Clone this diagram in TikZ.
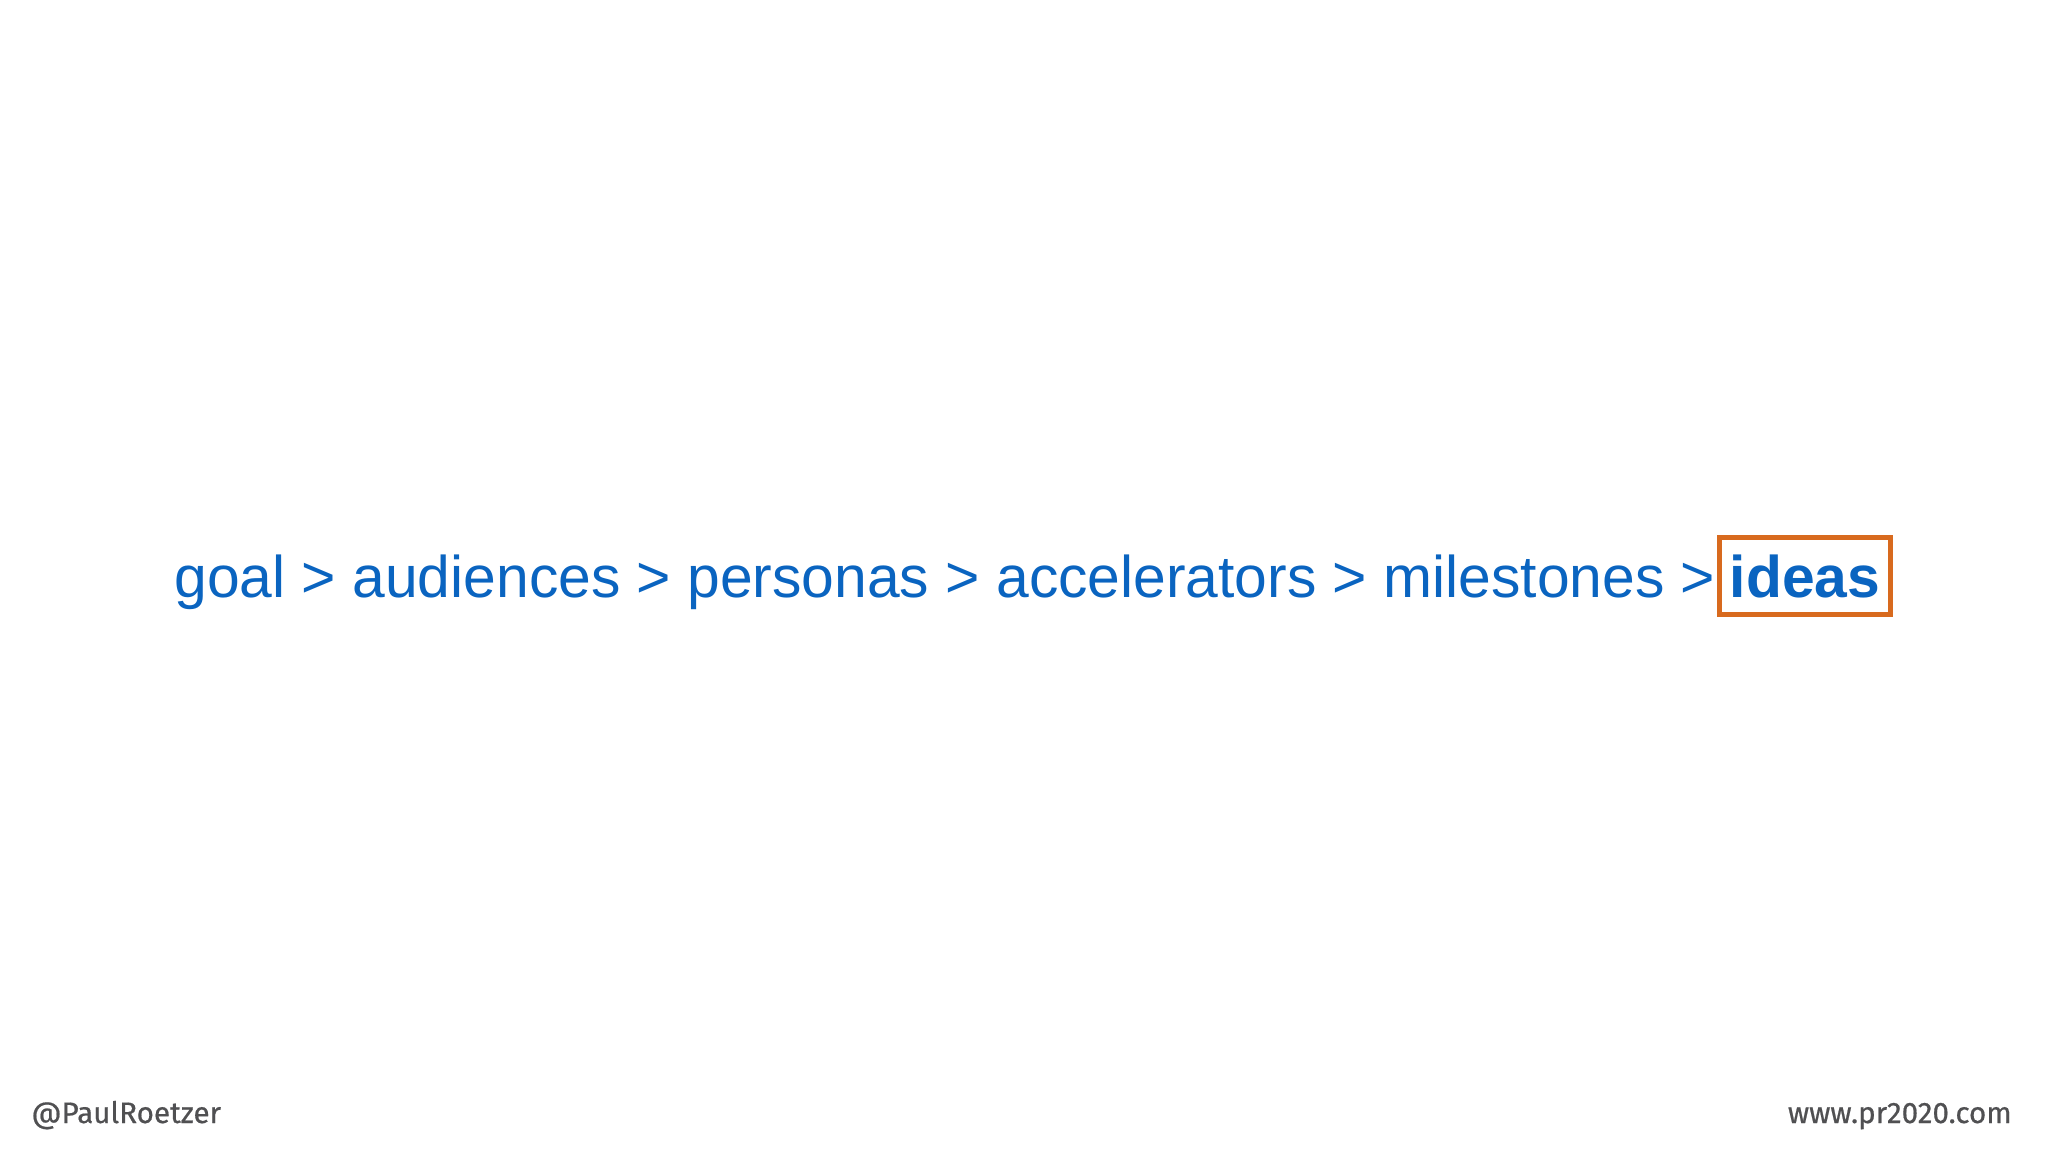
\documentclass[tikz,border=0pt]{standalone}
\usepackage{fontspec}
\setmainfont{Liberation Sans}
\newfontfamily\footfont[FakeBold=0.6]{Fira Sans}
\usetikzlibrary{shadows}
\definecolor{trailblue}{RGB}{10,100,192}
\definecolor{boxorange}{RGB}{216,106,30}
\definecolor{footgray}{RGB}{80,80,82}

\begin{document}
\begin{tikzpicture}
    [x=0.5pt,y=-0.5pt,every node/.style={inner sep=0pt},
     trail/.style={text=trailblue, font=\fontsize{29.4}{34}\selectfont},
     pick/.style={trail, font=\fontsize{29.4}{34}\selectfont\bfseries, draw=boxorange,
       line width=2.6pt, fill=white, minimum width=85.5pt, minimum height=38.5pt,
       drop shadow={opacity=0.25, shadow xshift=0.8pt, shadow yshift=-0.8pt}},
     foot/.style={text=footgray, font=\footfont\fontsize{14.8}{18}\selectfont}]
    \useasboundingbox (0,0) rectangle (2048,1152);

    \node[trail, anchor=base west] (steps) at (174,597)
      {goal > audiences > personas > accelerators > milestones >};
    \node[pick] (ideas) at (1805,576) {ideas};

    \node[foot, anchor=base west] (handle) at (31,1123) {@PaulRoetzer};
    \node[foot, anchor=base east] (site) at (2012,1123) {www.pr2020.com};
  \end{tikzpicture}
\end{document}
